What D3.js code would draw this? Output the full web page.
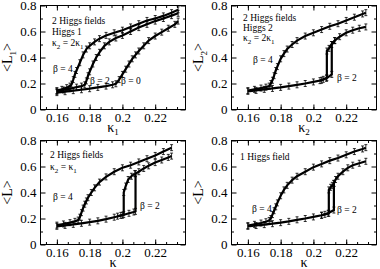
<!DOCTYPE html>
<html>
<head>
<meta charset="utf-8">
<script src="https://cdn.jsdelivr.net/npm/d3@7/dist/d3.min.js"></script>
<style>
  body { margin: 0; background: #fff; }
  svg { display: block; }
  text { font-family: "Liberation Serif", "DejaVu Serif", serif; fill: #000; }
</style>
</head>
<body>
<div id="chart-area"></div>
<script>
// tick values
var xTicks = [0.16, 0.18, 0.2, 0.22];
var yTicks = [0, 0.2, 0.4, 0.6, 0.8];

// panel 1 : 2 Higgs fields, Higgs 1, kappa2 = 2 kappa1
var p1b4K = [0.160,0.163,0.166,0.168,0.169,0.170,0.171,0.172,0.174,0.176,0.178,0.180,0.183,0.186,0.190,0.195,0.200,0.205,0.210,0.215,0.220,0.225,0.230,0.234];
var p1b4L = [0.145,0.155,0.168,0.180,0.195,0.230,0.270,0.300,0.360,0.420,0.465,0.490,0.520,0.545,0.570,0.590,0.610,0.635,0.660,0.685,0.700,0.720,0.745,0.767];
var p1b2K = [0.160,0.164,0.168,0.172,0.175,0.177,0.178,0.179,0.180,0.182,0.184,0.186,0.189,0.192,0.196,0.200,0.205,0.210,0.215,0.220,0.225,0.230,0.234];
var p1b2L = [0.140,0.150,0.160,0.172,0.180,0.190,0.220,0.260,0.290,0.350,0.400,0.440,0.490,0.520,0.550,0.570,0.600,0.630,0.655,0.680,0.700,0.722,0.740];
var p1b0K = [0.160,0.165,0.170,0.175,0.180,0.185,0.190,0.194,0.196,0.198,0.200,0.202,0.204,0.206,0.208,0.210,0.213,0.216,0.220,0.224,0.228,0.232,0.234];
var p1b0L = [0.130,0.137,0.145,0.152,0.160,0.170,0.180,0.190,0.198,0.230,0.270,0.310,0.350,0.390,0.420,0.450,0.490,0.530,0.565,0.595,0.625,0.655,0.680];

// panel 2 : 2 Higgs fields, Higgs 2
var p2b4K = [0.160,0.164,0.168,0.171,0.173,0.174,0.175,0.176,0.177,0.178,0.180,0.182,0.184,0.187,0.190,0.195,0.200,0.205,0.210,0.215,0.220,0.225,0.230,0.232];
var p2b4L = [0.145,0.155,0.165,0.172,0.180,0.200,0.225,0.260,0.300,0.330,0.390,0.430,0.465,0.500,0.530,0.565,0.590,0.615,0.640,0.660,0.685,0.710,0.735,0.745];
var p2b2K = [0.160,0.165,0.170,0.175,0.180,0.185,0.190,0.195,0.200,0.205,0.208,0.2112,0.2112,0.213,0.216,0.220,0.224,0.228,0.232];
var p2b2L = [0.140,0.147,0.155,0.162,0.170,0.180,0.190,0.200,0.212,0.225,0.240,0.270,0.500,0.530,0.560,0.590,0.610,0.625,0.635];
var p2b2bK = [0.204,0.206,0.2082,0.2082,0.2095,0.211,0.213];
var p2b2bL = [0.222,0.232,0.245,0.450,0.470,0.500,0.530];

// panel 3 : 2 Higgs fields, kappa2 = kappa1
var p3b4K = [0.160,0.164,0.168,0.171,0.173,0.174,0.175,0.176,0.177,0.178,0.179,0.181,0.183,0.186,0.190,0.195,0.200,0.205,0.210,0.215,0.220,0.225,0.230];
var p3b4L = [0.149,0.158,0.168,0.178,0.188,0.210,0.245,0.280,0.310,0.335,0.360,0.400,0.436,0.480,0.520,0.560,0.590,0.610,0.635,0.660,0.685,0.715,0.745];
var p3b2K = [0.160,0.165,0.170,0.175,0.180,0.185,0.190,0.195,0.200,0.204,0.207,0.208,0.208,0.210,0.213,0.216,0.220,0.224,0.228,0.230];
var p3b2L = [0.140,0.147,0.155,0.163,0.172,0.182,0.195,0.210,0.225,0.240,0.250,0.255,0.545,0.560,0.585,0.605,0.630,0.650,0.670,0.680];
var p3b2bK = [0.197,0.199,0.2008,0.2008,0.202,0.2035,0.2055,0.2075];
var p3b2bL = [0.218,0.224,0.230,0.400,0.450,0.500,0.525,0.545];

// panel 4 : 1 Higgs field
var p4b4K = [0.160,0.164,0.168,0.171,0.173,0.174,0.175,0.176,0.177,0.178,0.180,0.182,0.184,0.187,0.190,0.195,0.200,0.205,0.210,0.215,0.220,0.225,0.230,0.232];
var p4b4L = [0.145,0.155,0.165,0.175,0.185,0.200,0.230,0.260,0.290,0.320,0.375,0.420,0.455,0.495,0.525,0.560,0.595,0.620,0.645,0.665,0.690,0.715,0.735,0.745];
var p4b2K = [0.160,0.165,0.170,0.175,0.180,0.185,0.190,0.195,0.200,0.205,0.209,0.2125,0.2125,0.2135,0.215,0.218,0.221,0.224,0.228,0.232];
var p4b2L = [0.140,0.146,0.153,0.160,0.168,0.178,0.190,0.200,0.212,0.225,0.240,0.265,0.470,0.500,0.525,0.560,0.590,0.610,0.625,0.640];
var p4b2bK = [0.205,0.207,0.2094,0.2094,0.2105,0.2115,0.2125];
var p4b2bL = [0.225,0.232,0.240,0.420,0.440,0.455,0.470];

function zip(k, l) {
    return k.map(function(d, i) { return {k: d, L: l[i]}; });
}

var panels = [
    {left: 40.5, top: 5.5, yLab: ["<L", "1", ">"], xLab: ["κ", "1"],
     series: [zip(p1b4K, p1b4L), zip(p1b2K, p1b2L), zip(p1b0K, p1b0L)],
     notes: [
        {x: 52, y: 24, parts: [["2 Higgs fields"]]},
        {x: 52, y: 35, parts: [["Higgs 1"]]},
        {x: 52, y: 46, parts: [["κ"], ["2", "sub"], [" = 2κ"], ["1", "sub"]]},
        {x: 53, y: 72, parts: [["β = 4"]]},
        {x: 90, y: 84, parts: [["β = 2"]]},
        {x: 121, y: 84, parts: [["β = 0"]]}
     ]},
    {left: 231.5, top: 5.5, yLab: ["<L", "2", ">"], xLab: ["κ", "2"],
     series: [zip(p2b4K, p2b4L), zip(p2b2K, p2b2L), zip(p2b2bK, p2b2bL)],
     notes: [
        {x: 243, y: 21, parts: [["2 Higgs fields"]]},
        {x: 243, y: 31, parts: [["Higgs 2"]]},
        {x: 243, y: 41, parts: [["κ"], ["2", "sub"], [" = 2κ"], ["1", "sub"]]},
        {x: 253, y: 63, parts: [["β = 4"]]},
        {x: 337, y: 81, parts: [["β = 2"]]}
     ]},
    {left: 40.5, top: 140.5, yLab: ["<L>"], xLab: ["κ"],
     series: [zip(p3b4K, p3b4L), zip(p3b2K, p3b2L), zip(p3b2bK, p3b2bL)],
     notes: [
        {x: 50, y: 158, parts: [["2 Higgs fields"]]},
        {x: 50, y: 170, parts: [["κ"], ["2", "sub"], [" = κ"], ["1", "sub"]]},
        {x: 53, y: 200, parts: [["β = 4"]]},
        {x: 140, y: 209, parts: [["β = 2"]]}
     ]},
    {left: 231.5, top: 140.5, yLab: ["<L>"], xLab: ["κ"],
     series: [zip(p4b4K, p4b4L), zip(p4b2K, p4b2L), zip(p4b2bK, p4b2bL)],
     notes: [
        {x: 240, y: 160, parts: [["1 Higgs field"]]},
        {x: 252, y: 212, parts: [["β = 4"]]},
        {x: 337, y: 213, parts: [["β = 2"]]}
     ]}
];

var width = 145;
var height = 104;

var svg = d3.select("#chart-area")
    .append("svg")
    .attr("width", 380)
    .attr("height", 269);

var x = d3.scaleLinear().domain([0.15, 0.2385]).range([0, width]);
var y = d3.scaleLinear().domain([0, 0.8]).range([height, 0]);

var xMinor = d3.range(0, 14).map(function(i) { return 0.16 + (i - 1) * 0.02 / 3; })
    .filter(function(d) { return d > 0.15 && d < 0.2385; });
var yMinor = [0.1, 0.3, 0.5, 0.7];

var line = d3.line()
    .x(function(d) { return x(d.k); })
    .y(function(d) { return y(d.L); });

// text with subscripts: a part flagged "sub" is lowered, the next one raised back
function addParts(sel, parts) {
    var shift = 0;
    parts.forEach(function(p) {
        var t = sel.append("tspan").text(p[0]);
        if (p[1] === "sub") {
            t.attr("font-size", "7px").attr("dy", 3);
            shift = 3;
        } else if (shift) {
            t.attr("dy", -shift);
            shift = 0;
        }
    });
}

panels.forEach(function(p) {
    var g = svg.append("g")
        .attr("transform", "translate(" + p.left + "," + p.top + ")");

    // axes, ticks inward on all sides
    var bottom = g.append("g")
        .attr("transform", "translate(0," + height + ")")
        .call(d3.axisBottom(x).tickValues(xTicks).tickSize(-5).tickPadding(3)
            .tickFormat(function(d) { return d; }));
    g.append("g")
        .attr("transform", "translate(0," + height + ")")
        .call(d3.axisBottom(x).tickValues(xMinor).tickSize(-2.5).tickFormat(""));
    g.append("g")
        .call(d3.axisTop(x).tickValues(xTicks).tickSize(-5).tickFormat(""));
    g.append("g")
        .call(d3.axisTop(x).tickValues(xMinor).tickSize(-2.5).tickFormat(""));
    var left = g.append("g")
        .call(d3.axisLeft(y).tickValues(yTicks).tickSize(-5).tickPadding(4)
            .tickFormat(function(d) { return d === 0 ? "0" : d3.format(".1f")(d); }));
    g.append("g")
        .call(d3.axisLeft(y).tickValues(yMinor).tickSize(-2.5).tickFormat(""));
    g.append("g")
        .attr("transform", "translate(" + width + ",0)")
        .call(d3.axisRight(y).tickValues(yTicks).tickSize(-5).tickFormat(""));
    g.append("g")
        .attr("transform", "translate(" + width + ",0)")
        .call(d3.axisRight(y).tickValues(yMinor).tickSize(-2.5).tickFormat(""));

    g.selectAll(".domain").remove();
    g.selectAll(".tick line").attr("stroke", "#000");
    bottom.selectAll("text").attr("font-size", "13px");
    left.selectAll("text").attr("font-size", "13px");

    g.append("rect")
        .attr("width", width)
        .attr("height", height)
        .attr("fill", "none")
        .attr("stroke", "#000");

    // curves with error bars
    p.series.forEach(function(s) {
        g.append("path")
            .datum(s)
            .attr("fill", "none")
            .attr("stroke", "#000")
            .attr("stroke-width", 2.2)
            .attr("d", line);

        var eb = g.append("g").attr("stroke", "#000").attr("stroke-width", 0.8);
        s.forEach(function(d) {
            var cx = x(d.k);
            eb.append("line")
                .attr("x1", cx).attr("x2", cx)
                .attr("y1", y(d.L) - 3).attr("y2", y(d.L) + 3);
            eb.append("line")
                .attr("x1", cx - 1.5).attr("x2", cx + 1.5)
                .attr("y1", y(d.L) - 3).attr("y2", y(d.L) - 3);
            eb.append("line")
                .attr("x1", cx - 1.5).attr("x2", cx + 1.5)
                .attr("y1", y(d.L) + 3).attr("y2", y(d.L) + 3);
        });
    });

    // axis labels
    var yl = g.append("text")
        .attr("transform", "translate(-29," + (height / 2) + ") rotate(-90)")
        .attr("text-anchor", "middle")
        .attr("font-size", "14px");
    yl.append("tspan").text(p.yLab[0]);
    if (p.yLab.length > 1) {
        yl.append("tspan").attr("font-size", "9px").attr("dy", 4).text(p.yLab[1]);
        yl.append("tspan").attr("dy", -4).text(p.yLab[2]);
    }

    var xl = g.append("text")
        .attr("x", width / 2)
        .attr("y", height + 22.5)
        .attr("text-anchor", "middle")
        .attr("font-size", "14px");
    xl.append("tspan").text(p.xLab[0]);
    if (p.xLab.length > 1) {
        xl.append("tspan").attr("font-size", "9px").attr("dy", 3).text(p.xLab[1]);
    }

    // annotations
    p.notes.forEach(function(n) {
        var t = svg.append("text")
            .attr("x", n.x)
            .attr("y", n.y)
            .attr("font-size", "9.5px");
        addParts(t, n.parts);
    });
});
</script>
</body>
</html>
